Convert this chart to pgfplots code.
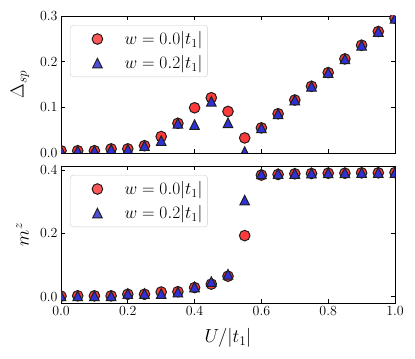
\RequirePackage{fix-cm}
\documentclass[border=0pt]{standalone}
\usepackage{pgfplots}
\pgfplotsset{compat=1.18}

\definecolor{mred}{RGB}{255,58,58}
\definecolor{mblue}{RGB}{48,48,215}
\definecolor{medge}{RGB}{30,30,30}

% matplotlib-like "^" marker: bbox centred on the point
\pgfdeclareplotmark{mtri}{%
  \pgfpathmoveto{\pgfpoint{0pt}{\pgfplotmarksize}}%
  \pgfpathlineto{\pgfpoint{-\pgfplotmarksize}{-\pgfplotmarksize}}%
  \pgfpathlineto{\pgfpoint{\pgfplotmarksize}{-\pgfplotmarksize}}%
  \pgfpathclose
  \pgfusepathqfillstroke}

\pgfplotsset{
  panel/.style={
    scale only axis, width=334bp, height=137bp,
    xmin=0, xmax=1, xtick={0,0.2,...,1},
    tick align=inside, major tick length=4bp,
    every tick/.style={black, line width=0.8bp},
    axis line style={line width=0.9bp},
    tick label style={font=\fontsize{14}{16}\selectfont},
    label style={font=\fontsize{19}{22}\selectfont},
    xticklabel style={/pgf/number format/.cd, fixed, fixed zerofill, precision=1},
    yticklabel style={/pgf/number format/.cd, fixed, fixed zerofill, precision=1},
    clip marker paths=true,
    legend cell align=left,
    legend style={at={(0.027,0.934)}, anchor=north west,
      draw=black!20, fill=white, fill opacity=0.85, text opacity=1,
      rounded corners=3bp, inner xsep=3bp, inner ysep=4.5bp,
      font=\fontsize{17.5}{20}\selectfont,
      nodes={inner ysep=2bp}, row sep=5.5bp,
      /tikz/every odd column/.append style={column sep=13bp}},
    legend image code/.code={%
      \path (0bp,0bp) (36bp,0bp);
      \draw[##1] plot[only marks] coordinates {(24bp,0bp)};},
  },
  redpts/.style={only marks, mark=*, mark size=5.3bp,
    mark options={fill=mred, draw=medge, line width=1bp}},
  bluepts/.style={only marks, mark=mtri, mark size=4.8bp,
    mark options={fill=mblue, draw=medge, line width=1bp}},
}

\begin{document}
\begin{tikzpicture}
\begin{axis}[panel,
  at={(61bp,206bp)}, anchor=south west,
  ymin=0, ymax=0.3, ytick={0,0.1,0.2,0.3},
  xticklabels={},
  ylabel={$\Delta_{sp}$},
  ylabel style={at={(axis description cs:-0.123,0.5)}, anchor=center},
]
\addplot[redpts] coordinates {
 (0.00,0.005) (0.05,0.005) (0.10,0.005) (0.15,0.009) (0.20,0.009)
 (0.25,0.016) (0.30,0.036) (0.35,0.065) (0.40,0.099) (0.45,0.121)
 (0.50,0.091) (0.55,0.033) (0.60,0.055) (0.65,0.086) (0.70,0.116)
 (0.75,0.146) (0.80,0.176) (0.85,0.206) (0.90,0.236) (0.95,0.266)
 (1.00,0.295)};
\addlegendentry{$w=0.0|t_1|$}
\addplot[bluepts] coordinates {
 (0.00,0.005) (0.05,0.005) (0.10,0.005) (0.15,0.008) (0.20,0.008)
 (0.25,0.016) (0.30,0.027) (0.35,0.065) (0.40,0.062) (0.45,0.113)
 (0.50,0.066) (0.55,0.003) (0.60,0.055) (0.65,0.086) (0.70,0.116)
 (0.75,0.146) (0.80,0.176) (0.85,0.206) (0.90,0.236) (0.95,0.266)
 (1.00,0.295)};
\addlegendentry{$w=0.2|t_1|$}
\end{axis}

\begin{axis}[panel,
  at={(61bp,56bp)}, anchor=south west,
  ymin=-0.0196, ymax=0.4126, ytick={0,0.2,0.4},
  xlabel={$U/|t_1|$},
  xlabel style={at={(axis description cs:0.5,-0.255)}, anchor=center},
  ylabel={$m^z$},
  ylabel style={at={(axis description cs:-0.115,0.5)}, anchor=center},
]
\addplot[redpts] coordinates {
 (0.00,0.002) (0.05,0.003) (0.10,0.003) (0.15,0.003) (0.20,0.008)
 (0.25,0.008) (0.30,0.015) (0.35,0.016) (0.40,0.029) (0.45,0.040)
 (0.50,0.065) (0.55,0.193) (0.60,0.384) (0.65,0.386) (0.70,0.388)
 (0.75,0.389) (0.80,0.390) (0.85,0.390) (0.90,0.391) (0.95,0.391)
 (1.00,0.392)};
\addlegendentry{$w=0.0|t_1|$}
\addplot[bluepts] coordinates {
 (0.00,0.003) (0.05,0.003) (0.10,0.003) (0.15,0.003) (0.20,0.010)
 (0.25,0.010) (0.30,0.010) (0.35,0.015) (0.40,0.031) (0.45,0.048)
 (0.50,0.071) (0.55,0.305) (0.60,0.388) (0.65,0.389) (0.70,0.389)
 (0.75,0.390) (0.80,0.391) (0.85,0.391) (0.90,0.392) (0.95,0.392)
 (1.00,0.392)};
\addlegendentry{$w=0.2|t_1|$}
\end{axis}
\pgfresetboundingbox
\path[use as bounding box] (0,0) rectangle (415bp,359bp);
\end{tikzpicture}
\end{document}
